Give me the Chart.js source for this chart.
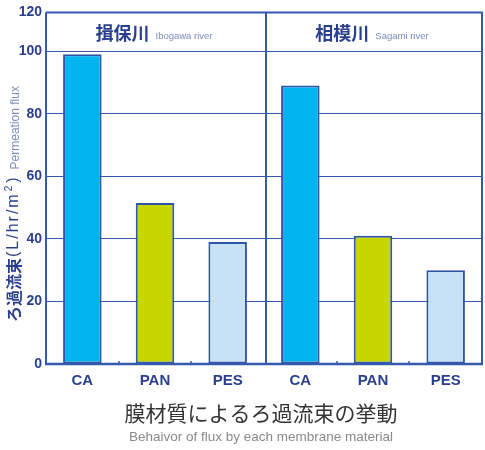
<!DOCTYPE html>
<html>
<head>
<meta charset="utf-8">
<script src="https://cdn.jsdelivr.net/npm/chart.js@4"></script>
<style>
  html, body { margin: 0; padding: 0; background: #ffffff; }
  #wrap { width: 485px; height: 450px; position: relative; }
</style>
</head>
<body>
<div id="wrap"><canvas id="c" width="485" height="450"></canvas></div>
<script>
// Rivers (panels) and membrane materials
const rivers = ['揖保川', '相模川'];
const riversEn = ['Ibogawa river', 'Sagami river'];
const materials = ['CA', 'PAN', 'PES'];

// Permeation flux (L/hr/m2) per material
const ibogawaFlux = [99, 51.5, 39];
const sagamiFlux = [89, 41, 30];

// Y axis ticks; the top edge of the frame carries the "120" label
const yTickValues = [0, 20, 40, 60, 80, 100, 112.4];
const yTickLabels = ['0', '20', '40', '60', '80', '100', '120'];

const materialColors = ['#00b5ef', '#c5d600', '#c8e2f5'];
const navy = '#2b3f8f';
const lineBlue = '#3459ad';

const labels = materials.concat(materials);
const values = ibogawaFlux.concat(sagamiFlux);
const barColors = materialColors.concat(materialColors);

const panelPlugin = {
  id: 'panels',
  afterDatasetsDraw(chart) {
    const { ctx, chartArea: a, scales: { x } } = chart;
    ctx.save();
    // frame
    ctx.strokeStyle = lineBlue;
    ctx.lineWidth = 2;
    ctx.beginPath();
    ctx.moveTo(a.left, a.top);
    ctx.lineTo(a.right, a.top);
    ctx.lineTo(a.right, a.bottom);
    ctx.stroke();
    // divider between rivers
    const mid = x.getPixelForValue(2.5) + 2;
    ctx.beginPath();
    ctx.moveTo(mid, a.top);
    ctx.lineTo(mid, a.bottom);
    ctx.stroke();
    // small ticks between materials
    ctx.lineWidth = 1.5;
    [0.5, 1.5, 3.5, 4.5].forEach(v => {
      const px = Math.round(x.getPixelForValue(v));
      ctx.beginPath();
      ctx.moveTo(px, a.bottom - 3);
      ctx.lineTo(px, a.bottom);
      ctx.stroke();
    });
    // bottom axis line
    ctx.lineWidth = 2.5;
    ctx.beginPath();
    ctx.moveTo(a.left - 1, a.bottom);
    ctx.lineTo(a.right + 1, a.bottom);
    ctx.stroke();
    // left axis line
    ctx.lineWidth = 2;
    ctx.beginPath();
    ctx.moveTo(a.left, a.top);
    ctx.lineTo(a.left, a.bottom);
    ctx.stroke();

    // panel headers
    const centers = [(a.left + mid) / 2, (mid + a.right) / 2];
    rivers.forEach((name, i) => {
      ctx.font = 'bold 18px "Noto Sans CJK JP", sans-serif';
      const w1 = ctx.measureText(name).width;
      ctx.font = '9.5px "Liberation Sans", Arial, sans-serif';
      const w2 = ctx.measureText(riversEn[i]).width;
      const start = centers[i] - (w1 + 6 + w2) / 2 - 2;
      ctx.textBaseline = 'alphabetic';
      ctx.textAlign = 'left';
      ctx.fillStyle = navy;
      ctx.font = 'bold 18px "Noto Sans CJK JP", sans-serif';
      ctx.fillText(name, start, 40);
      ctx.fillStyle = '#7d8cc0';
      ctx.font = '9.5px "Liberation Sans", Arial, sans-serif';
      ctx.fillText(riversEn[i], start + w1 + 6, 39);
    });

    // y axis title
    ctx.translate(14, 0);
    ctx.rotate(-Math.PI / 2);
    ctx.textBaseline = 'middle';
    ctx.textAlign = 'left';
    let pos = -322;
    ctx.fillStyle = navy;
    ctx.font = 'bold 16px "Noto Sans CJK JP", sans-serif';
    ctx.fillText('ろ過流束', pos, 0);
    pos += ctx.measureText('ろ過流束').width + 1;
    ctx.letterSpacing = '2px';
    ctx.font = '16px "Liberation Sans", Arial, sans-serif';
    ctx.fillText('(L/hr/m', pos, 0);
    pos += ctx.measureText('(L/hr/m').width;
    ctx.font = '10px "Liberation Sans", Arial, sans-serif';
    ctx.fillText('2', pos + 1, -5);
    pos += ctx.measureText('2').width + 2;
    ctx.font = '16px "Liberation Sans", Arial, sans-serif';
    ctx.fillText(')', pos, 0);
    pos += ctx.measureText(')').width + 6;
    ctx.letterSpacing = '0px';
    ctx.fillStyle = '#7d8cc0';
    ctx.font = '12px "Liberation Sans", Arial, sans-serif';
    ctx.fillText('Permeation flux', pos, 2);
    ctx.restore();

    // captions
    ctx.save();
    const cx = (a.left + a.right) / 2;
    ctx.textAlign = 'center';
    ctx.textBaseline = 'middle';
    ctx.fillStyle = '#333333';
    ctx.font = '21px "Noto Sans CJK JP", sans-serif';
    ctx.fillText('膜材質によるろ過流束の挙動', cx - 3, 413);
    ctx.fillStyle = '#8a8a8a';
    ctx.font = '13.5px "Liberation Sans", Arial, sans-serif';
    ctx.fillText('Behaivor of flux by each membrane material', cx - 3, 437);
    ctx.restore();
  }
};

new Chart(document.getElementById('c'), {
  type: 'bar',
  data: {
    labels: labels,
    datasets: [{
      data: values,
      backgroundColor: barColors,
      borderColor: '#2f55a8',
      borderWidth: 2,
      borderSkipped: false,
      barPercentage: 1,
      categoryPercentage: 0.53
    }]
  },
  options: {
    responsive: false,
    animation: false,
    devicePixelRatio: 1,
    layout: { padding: { left: 0, right: 3, top: 11, bottom: 60 } },
    plugins: {
      legend: { display: false },
      tooltip: { enabled: false },
      title: { display: false }
    },
    scales: {
      x: {
        grid: { display: false },
        border: { display: false },
        ticks: {
          color: navy,
          font: { family: '"Liberation Sans", Arial, sans-serif', size: 15, weight: 'bold' },
          padding: 0,
          maxRotation: 0
        },
        afterFit(scale) { scale.height = 26; }
      },
      y: {
        min: 0,
        max: 112.4,
        afterBuildTicks(scale) {
          scale.ticks = yTickValues.map(v => ({ value: v }));
        },
        grid: {
          color: lineBlue,
          lineWidth: 1,
          drawTicks: false
        },
        border: { display: false },
        ticks: {
          color: navy,
          font: { family: '"Liberation Sans Narrow", "Liberation Sans", Arial, sans-serif', size: 14, weight: 'bold' },
          padding: 4,
          callback(value) {
            const i = yTickValues.indexOf(value);
            return i >= 0 ? yTickLabels[i] : '';
          }
        },
        afterFit(scale) { scale.width = 46; }
      }
    }
  },
  plugins: [panelPlugin]
});
</script>
</body>
</html>
